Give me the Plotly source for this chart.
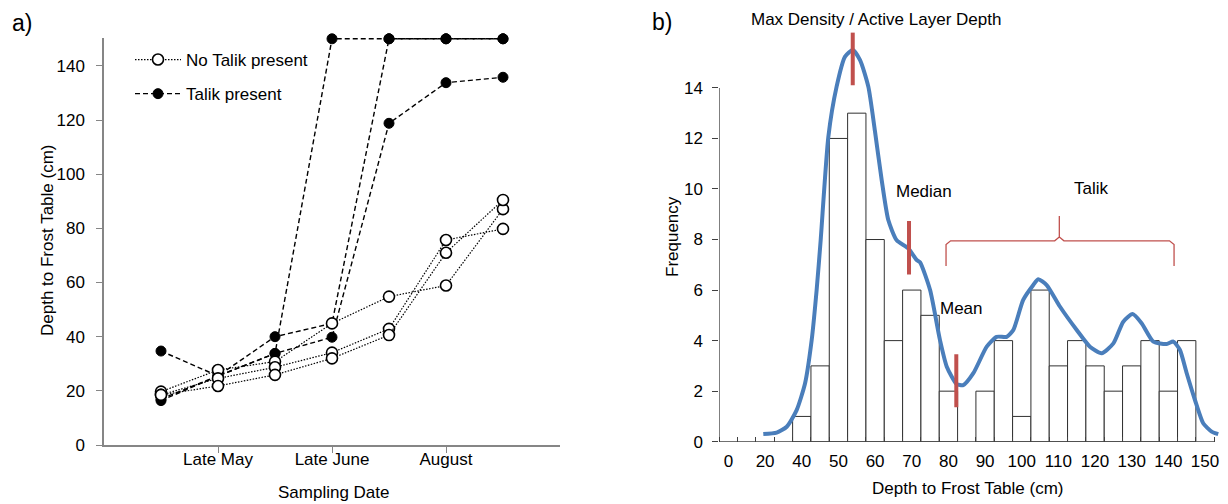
import plotly.graph_objects as go

W, H = 1228, 504

# ---------------- Panel a data ----------------
sample_pos = [1, 2, 3, 4, 5, 6, 7]
date_tick_pos = [2, 4, 6]
date_tick_text = ["Late May", "Late June", "August"]
depth_ticks = [0, 20, 40, 60, 80, 100, 120, 140]

no_talik_1 = [19.7, 27.7, 30.8, 44.9, 54.8, 58.9, 87.1]
no_talik_2 = [18.5, 24.6, 28.7, 34.1, 42.9, 75.7, 79.8]
no_talik_3 = [18.5, 21.8, 25.9, 32.0, 40.6, 71.0, 90.5]
talik_1 = [34.7, 25.5, 33.8, 150, 150, 150, 150]
talik_2 = [17.0, 25.5, 40.0, 44.9, 150, 150, 150]
talik_3 = [16.4, 25.5, 33.8, 39.8, 118.8, 133.8, 135.8]

# ---------------- Panel b data ----------------
bin_labels = ["0", "10", "20", "30", "40", "45", "50", "55", "60", "65", "70", "75",
              "80", "85", "90", "95", "100", "105", "110", "115", "120", "125",
              "130", "135", "140", "145", "150"]
bin_counts = [0, 0, 0, 0, 1, 3, 12, 13, 8, 4, 6, 5, 2, 0, 2, 4, 1, 6, 3, 4, 3, 2,
              3, 4, 2, 4, 0]
freq_ticks = [0, 2, 4, 6, 8, 10, 12, 14]

# density curve (x in bin-index units along the category axis)
kde_x = [2.40, 3.13, 3.68, 4.22, 4.68, 5.04, 5.31, 5.53, 5.95, 6.40, 6.86, 7.28,
         7.68, 8.13, 8.49, 8.86, 9.22, 9.68, 10.31, 10.77, 10.95, 11.50, 12.04,
         12.41, 12.95, 13.31, 13.86, 14.59, 15.13, 15.68, 16.04, 16.58, 17.13,
         17.40, 17.86, 18.59, 19.50, 20.22, 20.86, 21.50, 22.04, 22.55, 23.04,
         23.68, 24.41, 24.77, 25.13, 25.50, 25.95, 26.40, 26.86, 27.22]
kde_y = [0.30, 0.36, 0.59, 1.25, 2.31, 4.02, 6.00, 7.97, 12.07, 14.05, 15.24, 15.50,
         15.10, 14.05, 12.30, 10.35, 8.77, 7.97, 7.65, 7.19, 7.10, 6.00, 4.02,
         2.97, 2.28, 2.24, 2.71, 3.76, 4.15, 4.15, 4.42, 5.61, 6.20,
         6.43, 6.20, 5.34, 4.42, 3.76, 3.50, 3.89, 4.75, 5.05, 4.69,
         3.96, 3.87, 3.96, 3.63, 2.71, 1.65, 0.73, 0.40, 0.30]

stat_names = ["Max Density / Active Layer Depth", "Median", "Mean"]
stat_x = [7.28, 10.35, 12.93]
stat_y_low = [14.1, 6.62, 1.36]
stat_y_high = [16.19, 8.73, 3.46]

talik_x0, talik_x1, talik_mid = 12.37, 24.81, 18.55
talik_y_end, talik_y_bar, talik_y_tip = 6.95, 7.95, 8.93

FONT = "Liberation Sans, Arial, sans-serif"
GRAY = "#868686"
FS = 17

fig = go.Figure()

# ---- Panel a traces (talik first so open circles sit on top) ----
for i, s in enumerate([talik_1, talik_2, talik_3]):
    fig.add_trace(go.Scatter(
        x=sample_pos, y=s, mode="lines+markers", xaxis="x", yaxis="y",
        name="Talik present", legendgroup="talik", showlegend=(i == 0),
        legendrank=2,
        line=dict(color="black", width=1.4, dash="5px,3px"),
        marker=dict(symbol="circle", size=10, color="black",
                    line=dict(color="black", width=1)),
        cliponaxis=False))
for i, s in enumerate([no_talik_1, no_talik_2, no_talik_3]):
    fig.add_trace(go.Scatter(
        x=sample_pos, y=s, mode="lines+markers", xaxis="x", yaxis="y",
        name="No Talik present", legendgroup="no", showlegend=(i == 0),
        legendrank=1,
        line=dict(color="black", width=1.2, dash="1.5px,1.5px"),
        marker=dict(symbol="circle", size=11, color="white",
                    line=dict(color="black", width=1.6)),
        cliponaxis=False))

# ---- Panel b traces ----
bx = [i + 0.5 for i, c in enumerate(bin_counts) if c > 0]
by = [c for c in bin_counts if c > 0]
fig.add_trace(go.Bar(x=bx, y=by, width=1.0, xaxis="x2", yaxis="y2",
                     marker=dict(color="white", line=dict(color="#303030", width=1)),
                     showlegend=False))
fig.add_trace(go.Scatter(x=kde_x, y=kde_y, mode="lines", xaxis="x2", yaxis="y2",
                         line=dict(color="#4a7ebb", width=4, shape="spline", smoothing=0.6),
                         showlegend=False))
sx, sy = [], []
for xv, y0, y1 in zip(stat_x, stat_y_low, stat_y_high):
    sx += [xv, xv, None]
    sy += [y0, y1, None]
fig.add_trace(go.Scatter(x=sx, y=sy, mode="lines", xaxis="x2", yaxis="y2",
                         line=dict(color="#c0504d", width=4), showlegend=False))

# curly brace for Talik
r = 0.25
bxs = [talik_x0, talik_x0, talik_x0 + r, talik_mid - r, talik_mid, talik_mid,
       talik_mid, talik_mid + r, talik_x1 - r, talik_x1, talik_x1]
bys = [talik_y_end, talik_y_bar - 0.15, talik_y_bar, talik_y_bar, talik_y_bar + 0.15,
       talik_y_tip, talik_y_bar + 0.15, talik_y_bar, talik_y_bar, talik_y_bar - 0.15,
       talik_y_end]
fig.add_trace(go.Scatter(x=bxs, y=bys, mode="lines", xaxis="x2", yaxis="y2",
                         line=dict(color="#c0504d", width=1.3), showlegend=False))

def px(x):
    return x / W

def py(y):
    return 1 - y / H

tickfont = dict(family=FONT, size=FS, color="black")

fig.update_layout(
    width=W, height=H, autosize=False,
    margin=dict(l=0, r=0, t=0, b=0, autoexpand=False),
    paper_bgcolor="white", plot_bgcolor="white",
    font=dict(family=FONT, size=FS, color="black"),
    barmode="overlay",
    xaxis=dict(domain=[px(104), px(560)], range=[0, 8], anchor="y", automargin=False,
               tickvals=date_tick_pos, ticktext=date_tick_text,
               ticks="outside", ticklen=6, tickcolor=GRAY, tickwidth=1.2,
               showline=True, linecolor=GRAY, linewidth=1.5,
               showgrid=False, zeroline=False, tickfont=tickfont,
               ticklabelstandoff=-8),
    yaxis=dict(domain=[py(445), py(38)], range=[0, 150.3], anchor="x", automargin=False,
               tickvals=depth_ticks, ticks="outside", ticklen=6, tickcolor=GRAY,
               tickwidth=1.2, showline=True, linecolor=GRAY, linewidth=1.5,
               showgrid=False, zeroline=False, tickfont=tickfont,
               ticklabelstandoff=8),
    xaxis2=dict(domain=[px(719.3), px(1225.2)], range=[0, 27.6], anchor="y2",
                automargin=False,
                tickvals=[i + 0.5 for i in range(0, 27, 2)],
                ticktext=[bin_labels[i] for i in range(0, 27, 2)],
                ticks="", showline=False, showgrid=False, zeroline=False,
                tickfont=tickfont, ticklabelstandoff=7,
                minor=dict(ticks="inside", tick0=0, dtick=1, ticklen=5,
                           tickcolor="#404040", tickwidth=1, showgrid=False)),
    yaxis2=dict(domain=[py(441.7), py(32.3)], range=[0, 16.2], anchor="x2",
                automargin=False,
                tickvals=freq_ticks, ticks="outside", ticklen=6, tickcolor="#404040",
                showline=False, showgrid=False, zeroline=False, tickfont=tickfont,
                ticklabelstandoff=6),
    legend=dict(x=px(130), y=py(42), xanchor="left", yanchor="top",
                bgcolor="rgba(0,0,0,0)", font=dict(family=FONT, size=FS, color="black"),
                itemwidth=46, tracegroupgap=9, traceorder="grouped"),
    shapes=[
        dict(type="line", xref="x2", yref="y2", x0=0, x1=27, y0=0, y1=0,
             line=dict(color="#404040", width=1.3)),
        dict(type="line", xref="x2", yref="y2", x0=0, x1=0, y0=0, y1=14,
             line=dict(color="#404040", width=1.3)),
    ],
)

ann = [
    dict(text="a)", x=px(22), y=py(23), size=23),
    dict(text="b)", x=px(662), y=py(22), size=23),
    dict(text="Sampling Date", x=px(334), y=py(492), size=FS),
    dict(text="Depth to Frost Table (cm)", x=px(967), y=py(488), size=FS),
    dict(text="Max Density / Active Layer Depth", x=px(876), y=py(20), size=FS),
    dict(text="Median", x=px(924), y=py(191), size=FS),
    dict(text="Mean", x=px(961), y=py(308), size=FS),
    dict(text="Talik", x=px(1091), y=py(188), size=FS),
]
for a in ann:
    fig.add_annotation(text=a["text"], x=a["x"], y=a["y"], xref="paper", yref="paper",
                       showarrow=False, xanchor="center", yanchor="middle",
                       font=dict(family=FONT, size=a["size"], color="black"))
for txt, xx, yy in [("Depth to Frost Table (cm)", 47, 241), ("Frequency", 672, 237)]:
    fig.add_annotation(text=txt, x=px(xx), y=py(yy), xref="paper", yref="paper",
                       showarrow=False, textangle=-90, xanchor="center", yanchor="middle",
                       font=dict(family=FONT, size=FS, color="black"))

fig.write_html(
    "out.html",
    config={"displayModeBar": False, "responsive": False},
    post_script=("document.body.style.margin='0';"
                 "document.body.style.overflow='hidden';"
                 "document.documentElement.style.overflow='hidden';"),
)
